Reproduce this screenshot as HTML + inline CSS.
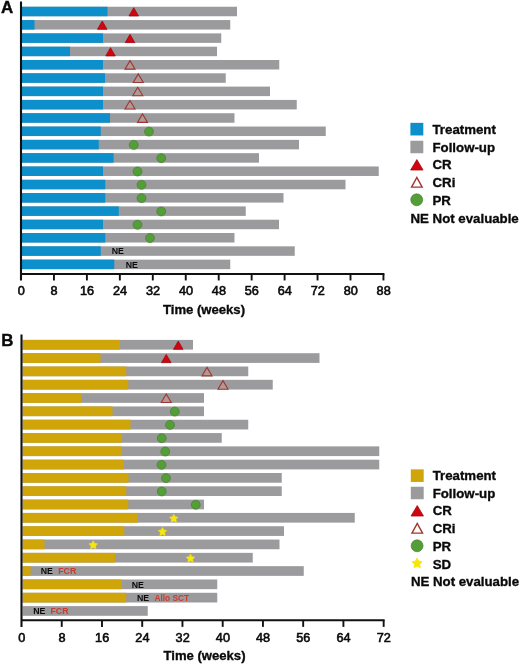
<!DOCTYPE html>
<html lang="en">
<head>
<meta charset="utf-8">
<title>Swimmer plots</title>
<style>
html,body{margin:0;padding:0;background:#fff;}
body{width:520px;height:665px;overflow:hidden;}
svg{display:block;}
text{font-family:"Liberation Sans", Arial, Helvetica, sans-serif;fill:#0a0a0a;}
.tick{font-size:12.7px;stroke:#0a0a0a;stroke-width:0.6px;}
.title{font-size:13.1px;font-weight:bold;stroke:#0a0a0a;stroke-width:0.35px;}
.leg{font-size:13.25px;font-weight:bold;stroke:#0a0a0a;stroke-width:0.35px;}
.panel{font-size:16.9px;font-weight:bold;stroke:#0a0a0a;stroke-width:0.4px;}
.ne{font-size:8.75px;font-weight:bold;}
.red{fill:#CC3B2B;}
</style>
</head>
<body>
<svg width="520" height="665" viewBox="0 0 520 665">
<rect x="0" y="0" width="520" height="665" fill="#fff"/>
<rect x="21.90" y="6.75" width="215.10" height="9.50" fill="#9B9A9D"/>
<rect x="21.90" y="6.75" width="85.60" height="9.50" fill="#0C8FCB"/>
<polygon points="129.00,15.95 138.50,15.95 133.75,7.75" fill="#D2040F" stroke="#A4060F" stroke-width="0.8"/>
<rect x="21.90" y="20.06" width="208.35" height="9.50" fill="#9B9A9D"/>
<rect x="21.90" y="20.06" width="12.60" height="9.50" fill="#0C8FCB"/>
<polygon points="97.50,29.26 107.00,29.26 102.25,21.06" fill="#D2040F" stroke="#A4060F" stroke-width="0.8"/>
<rect x="21.90" y="33.37" width="199.35" height="9.50" fill="#9B9A9D"/>
<rect x="21.90" y="33.37" width="81.10" height="9.50" fill="#0C8FCB"/>
<polygon points="125.25,42.57 134.75,42.57 130.00,34.37" fill="#D2040F" stroke="#A4060F" stroke-width="0.8"/>
<rect x="21.90" y="46.68" width="195.10" height="9.50" fill="#9B9A9D"/>
<rect x="21.90" y="46.68" width="48.10" height="9.50" fill="#0C8FCB"/>
<polygon points="105.75,55.88 115.25,55.88 110.50,47.68" fill="#D2040F" stroke="#A4060F" stroke-width="0.8"/>
<rect x="21.90" y="59.99" width="257.35" height="9.50" fill="#9B9A9D"/>
<rect x="21.90" y="59.99" width="81.10" height="9.50" fill="#0C8FCB"/>
<polygon points="125.00,69.14 135.00,69.14 130.00,60.64" fill="#D59C88" fill-opacity="0.4" stroke="#9F3536" stroke-width="1.1" stroke-linejoin="miter"/>
<rect x="21.90" y="73.30" width="203.85" height="9.50" fill="#9B9A9D"/>
<rect x="21.90" y="73.30" width="83.10" height="9.50" fill="#0C8FCB"/>
<polygon points="133.25,82.45 143.25,82.45 138.25,73.95" fill="#D59C88" fill-opacity="0.4" stroke="#9F3536" stroke-width="1.1" stroke-linejoin="miter"/>
<rect x="21.90" y="86.61" width="248.10" height="9.50" fill="#9B9A9D"/>
<rect x="21.90" y="86.61" width="81.10" height="9.50" fill="#0C8FCB"/>
<polygon points="132.75,95.76 142.75,95.76 137.75,87.26" fill="#D59C88" fill-opacity="0.4" stroke="#9F3536" stroke-width="1.1" stroke-linejoin="miter"/>
<rect x="21.90" y="99.92" width="274.85" height="9.50" fill="#9B9A9D"/>
<rect x="21.90" y="99.92" width="81.10" height="9.50" fill="#0C8FCB"/>
<polygon points="125.00,109.07 135.00,109.07 130.00,100.57" fill="#D59C88" fill-opacity="0.4" stroke="#9F3536" stroke-width="1.1" stroke-linejoin="miter"/>
<rect x="21.90" y="113.23" width="212.60" height="9.50" fill="#9B9A9D"/>
<rect x="21.90" y="113.23" width="88.10" height="9.50" fill="#0C8FCB"/>
<polygon points="137.50,122.38 147.50,122.38 142.50,113.88" fill="#D59C88" fill-opacity="0.4" stroke="#9F3536" stroke-width="1.1" stroke-linejoin="miter"/>
<rect x="21.90" y="126.54" width="303.85" height="9.50" fill="#9B9A9D"/>
<rect x="21.90" y="126.54" width="78.85" height="9.50" fill="#0C8FCB"/>
<circle cx="149.00" cy="131.59" r="4.45" fill="#539E36" stroke="#467F30" stroke-width="0.7"/>
<rect x="21.90" y="139.85" width="277.10" height="9.50" fill="#9B9A9D"/>
<rect x="21.90" y="139.85" width="76.85" height="9.50" fill="#0C8FCB"/>
<circle cx="133.75" cy="144.90" r="4.45" fill="#539E36" stroke="#467F30" stroke-width="0.7"/>
<rect x="21.90" y="153.16" width="237.10" height="9.50" fill="#9B9A9D"/>
<rect x="21.90" y="153.16" width="91.70" height="9.50" fill="#0C8FCB"/>
<circle cx="161.25" cy="158.21" r="4.45" fill="#539E36" stroke="#467F30" stroke-width="0.7"/>
<rect x="21.90" y="166.47" width="356.85" height="9.50" fill="#9B9A9D"/>
<rect x="21.90" y="166.47" width="81.10" height="9.50" fill="#0C8FCB"/>
<circle cx="137.50" cy="171.52" r="4.45" fill="#539E36" stroke="#467F30" stroke-width="0.7"/>
<rect x="21.90" y="179.78" width="323.60" height="9.50" fill="#9B9A9D"/>
<rect x="21.90" y="179.78" width="83.35" height="9.50" fill="#0C8FCB"/>
<circle cx="141.50" cy="184.83" r="4.45" fill="#539E36" stroke="#467F30" stroke-width="0.7"/>
<rect x="21.90" y="193.09" width="261.60" height="9.50" fill="#9B9A9D"/>
<rect x="21.90" y="193.09" width="83.35" height="9.50" fill="#0C8FCB"/>
<circle cx="141.50" cy="198.14" r="4.45" fill="#539E36" stroke="#467F30" stroke-width="0.7"/>
<rect x="21.90" y="206.40" width="223.85" height="9.50" fill="#9B9A9D"/>
<rect x="21.90" y="206.40" width="96.85" height="9.50" fill="#0C8FCB"/>
<circle cx="161.25" cy="211.45" r="4.45" fill="#539E36" stroke="#467F30" stroke-width="0.7"/>
<rect x="21.90" y="219.71" width="257.10" height="9.50" fill="#9B9A9D"/>
<rect x="21.90" y="219.71" width="81.10" height="9.50" fill="#0C8FCB"/>
<circle cx="137.50" cy="224.76" r="4.45" fill="#539E36" stroke="#467F30" stroke-width="0.7"/>
<rect x="21.90" y="233.02" width="212.60" height="9.50" fill="#9B9A9D"/>
<rect x="21.90" y="233.02" width="83.35" height="9.50" fill="#0C8FCB"/>
<circle cx="150.00" cy="238.07" r="4.45" fill="#539E36" stroke="#467F30" stroke-width="0.7"/>
<rect x="21.90" y="246.33" width="272.85" height="9.50" fill="#9B9A9D"/>
<rect x="21.90" y="246.33" width="78.85" height="9.50" fill="#0C8FCB"/>
<text x="111.75" y="254.33" class="ne">NE</text>
<rect x="21.90" y="259.64" width="208.35" height="9.50" fill="#9B9A9D"/>
<rect x="21.90" y="259.64" width="92.35" height="9.50" fill="#0C8FCB"/>
<text x="125.75" y="267.64" class="ne">NE</text>
<line x1="21.00" y1="1.40" x2="21.00" y2="280.45" stroke="#111" stroke-width="2.1"/>
<line x1="21.00" y1="273.95" x2="384.40" y2="273.95" stroke="#111" stroke-width="1.9"/>
<text x="21.20" y="295.10" class="tick" text-anchor="middle">0</text>
<line x1="53.95" y1="273.95" x2="53.95" y2="280.45" stroke="#111" stroke-width="1.9"/>
<text x="54.15" y="295.10" class="tick" text-anchor="middle">8</text>
<line x1="86.90" y1="273.95" x2="86.90" y2="280.45" stroke="#111" stroke-width="1.9"/>
<text x="87.10" y="295.10" class="tick" text-anchor="middle">16</text>
<line x1="119.85" y1="273.95" x2="119.85" y2="280.45" stroke="#111" stroke-width="1.9"/>
<text x="120.05" y="295.10" class="tick" text-anchor="middle">24</text>
<line x1="152.80" y1="273.95" x2="152.80" y2="280.45" stroke="#111" stroke-width="1.9"/>
<text x="153.00" y="295.10" class="tick" text-anchor="middle">32</text>
<line x1="185.75" y1="273.95" x2="185.75" y2="280.45" stroke="#111" stroke-width="1.9"/>
<text x="185.95" y="295.10" class="tick" text-anchor="middle">40</text>
<line x1="218.70" y1="273.95" x2="218.70" y2="280.45" stroke="#111" stroke-width="1.9"/>
<text x="218.90" y="295.10" class="tick" text-anchor="middle">48</text>
<line x1="251.65" y1="273.95" x2="251.65" y2="280.45" stroke="#111" stroke-width="1.9"/>
<text x="251.85" y="295.10" class="tick" text-anchor="middle">56</text>
<line x1="284.60" y1="273.95" x2="284.60" y2="280.45" stroke="#111" stroke-width="1.9"/>
<text x="284.80" y="295.10" class="tick" text-anchor="middle">64</text>
<line x1="317.55" y1="273.95" x2="317.55" y2="280.45" stroke="#111" stroke-width="1.9"/>
<text x="317.75" y="295.10" class="tick" text-anchor="middle">72</text>
<line x1="350.50" y1="273.95" x2="350.50" y2="280.45" stroke="#111" stroke-width="1.9"/>
<text x="350.70" y="295.10" class="tick" text-anchor="middle">80</text>
<line x1="383.45" y1="273.95" x2="383.45" y2="280.45" stroke="#111" stroke-width="1.9"/>
<text x="383.65" y="295.10" class="tick" text-anchor="middle">88</text>
<text x="204.00" y="314.20" class="title" text-anchor="middle">Time (weeks)</text>
<text x="1.0" y="13.4" class="panel">A</text>
<rect x="410.40" y="122.85" width="12.9" height="12.6" fill="#0C8FCB"/>
<text x="432.50" y="133.80" class="leg">Treatment</text>
<rect x="410.40" y="140.75" width="12.9" height="12.5" fill="#9B9A9D"/>
<text x="432.50" y="151.55" class="leg">Follow-up</text>
<polygon points="410.65,170.00 423.05,170.00 416.85,159.60" fill="#D2040F" stroke="#A4060F" stroke-width="0.8"/>
<text x="432.50" y="169.30" class="leg">CR</text>
<polygon points="411.55,187.10 422.15,187.10 416.85,177.40" fill="#fffdf5" stroke="#9F3536" stroke-width="1.4"/>
<text x="432.50" y="187.05" class="leg">CRi</text>
<circle cx="416.70" cy="199.80" r="5.95" fill="#539E36" stroke="#467F30" stroke-width="0.7"/>
<text x="432.50" y="204.80" class="leg">PR</text>
<text x="410.50" y="222.55" class="leg">NE Not evaluable</text>
<rect x="22.60" y="339.90" width="170.40" height="9.70" fill="#9B9A9D"/>
<rect x="22.60" y="339.90" width="97.40" height="9.70" fill="#CFA509"/>
<polygon points="173.50,349.30 183.00,349.30 178.25,341.10" fill="#D2040F" stroke="#A4060F" stroke-width="0.8"/>
<rect x="22.60" y="353.21" width="296.90" height="9.70" fill="#9B9A9D"/>
<rect x="22.60" y="353.21" width="77.90" height="9.70" fill="#CFA509"/>
<polygon points="161.50,362.61 171.00,362.61 166.25,354.41" fill="#D2040F" stroke="#A4060F" stroke-width="0.8"/>
<rect x="22.60" y="366.52" width="225.65" height="9.70" fill="#9B9A9D"/>
<rect x="22.60" y="366.52" width="103.65" height="9.70" fill="#CFA509"/>
<polygon points="202.00,375.87 212.00,375.87 207.00,367.37" fill="#D59C88" fill-opacity="0.4" stroke="#9F3536" stroke-width="1.1" stroke-linejoin="miter"/>
<rect x="22.60" y="379.83" width="250.15" height="9.70" fill="#9B9A9D"/>
<rect x="22.60" y="379.83" width="105.65" height="9.70" fill="#CFA509"/>
<polygon points="218.00,389.18 228.00,389.18 223.00,380.68" fill="#D59C88" fill-opacity="0.4" stroke="#9F3536" stroke-width="1.1" stroke-linejoin="miter"/>
<rect x="22.60" y="393.14" width="181.40" height="9.70" fill="#9B9A9D"/>
<rect x="22.60" y="393.14" width="58.65" height="9.70" fill="#CFA509"/>
<polygon points="161.25,402.49 171.25,402.49 166.25,393.99" fill="#D59C88" fill-opacity="0.4" stroke="#9F3536" stroke-width="1.1" stroke-linejoin="miter"/>
<rect x="22.60" y="406.45" width="181.40" height="9.70" fill="#9B9A9D"/>
<rect x="22.60" y="406.45" width="89.90" height="9.70" fill="#CFA509"/>
<circle cx="174.75" cy="411.60" r="4.45" fill="#539E36" stroke="#467F30" stroke-width="0.7"/>
<rect x="22.60" y="419.76" width="225.65" height="9.70" fill="#9B9A9D"/>
<rect x="22.60" y="419.76" width="107.90" height="9.70" fill="#CFA509"/>
<circle cx="170.00" cy="424.91" r="4.45" fill="#539E36" stroke="#467F30" stroke-width="0.7"/>
<rect x="22.60" y="433.07" width="199.15" height="9.70" fill="#9B9A9D"/>
<rect x="22.60" y="433.07" width="99.15" height="9.70" fill="#CFA509"/>
<circle cx="161.75" cy="438.22" r="4.45" fill="#539E36" stroke="#467F30" stroke-width="0.7"/>
<rect x="22.60" y="446.38" width="356.65" height="9.70" fill="#9B9A9D"/>
<rect x="22.60" y="446.38" width="99.15" height="9.70" fill="#CFA509"/>
<circle cx="165.25" cy="451.53" r="4.45" fill="#539E36" stroke="#467F30" stroke-width="0.7"/>
<rect x="22.60" y="459.69" width="356.65" height="9.70" fill="#9B9A9D"/>
<rect x="22.60" y="459.69" width="101.15" height="9.70" fill="#CFA509"/>
<circle cx="161.50" cy="464.84" r="4.45" fill="#539E36" stroke="#467F30" stroke-width="0.7"/>
<rect x="22.60" y="473.00" width="259.15" height="9.70" fill="#9B9A9D"/>
<rect x="22.60" y="473.00" width="105.90" height="9.70" fill="#CFA509"/>
<circle cx="166.00" cy="478.15" r="4.45" fill="#539E36" stroke="#467F30" stroke-width="0.7"/>
<rect x="22.60" y="486.31" width="259.15" height="9.70" fill="#9B9A9D"/>
<rect x="22.60" y="486.31" width="103.65" height="9.70" fill="#CFA509"/>
<circle cx="161.75" cy="491.46" r="4.45" fill="#539E36" stroke="#467F30" stroke-width="0.7"/>
<rect x="22.60" y="499.62" width="181.40" height="9.70" fill="#9B9A9D"/>
<rect x="22.60" y="499.62" width="105.65" height="9.70" fill="#CFA509"/>
<circle cx="195.75" cy="504.77" r="4.45" fill="#539E36" stroke="#467F30" stroke-width="0.7"/>
<rect x="22.60" y="512.93" width="332.15" height="9.70" fill="#9B9A9D"/>
<rect x="22.60" y="512.93" width="115.40" height="9.70" fill="#CFA509"/>
<polygon points="173.75,514.18 175.10,516.72 177.93,517.22 175.94,519.29 176.34,522.14 173.75,520.88 171.16,522.14 171.56,519.29 169.57,517.22 172.40,516.72" fill="#F8E60A" stroke="#F8E60A" stroke-width="0.6" stroke-linejoin="round"/>
<rect x="22.60" y="526.24" width="261.40" height="9.70" fill="#9B9A9D"/>
<rect x="22.60" y="526.24" width="101.65" height="9.70" fill="#CFA509"/>
<polygon points="162.50,527.49 163.85,530.03 166.68,530.53 164.69,532.60 165.09,535.45 162.50,534.19 159.91,535.45 160.31,532.60 158.32,530.53 161.15,530.03" fill="#F8E60A" stroke="#F8E60A" stroke-width="0.6" stroke-linejoin="round"/>
<rect x="22.60" y="539.55" width="256.90" height="9.70" fill="#9B9A9D"/>
<rect x="22.60" y="539.55" width="21.90" height="9.70" fill="#CFA509"/>
<polygon points="93.25,540.80 94.60,543.34 97.43,543.84 95.44,545.91 95.84,548.76 93.25,547.50 90.66,548.76 91.06,545.91 89.07,543.84 91.90,543.34" fill="#F8E60A" stroke="#F8E60A" stroke-width="0.6" stroke-linejoin="round"/>
<rect x="22.60" y="552.86" width="230.15" height="9.70" fill="#9B9A9D"/>
<rect x="22.60" y="552.86" width="92.40" height="9.70" fill="#CFA509"/>
<polygon points="190.50,554.11 191.85,556.65 194.68,557.15 192.69,559.22 193.09,562.07 190.50,560.81 187.91,562.07 188.31,559.22 186.32,557.15 189.15,556.65" fill="#F8E60A" stroke="#F8E60A" stroke-width="0.6" stroke-linejoin="round"/>
<rect x="22.60" y="566.17" width="281.15" height="9.70" fill="#9B9A9D"/>
<rect x="22.60" y="566.17" width="7.90" height="9.70" fill="#CFA509"/>
<text x="40.75" y="574.37" class="ne">NE</text>
<text x="58.25" y="574.37" class="ne red">FCR</text>
<rect x="22.60" y="579.48" width="194.65" height="9.70" fill="#9B9A9D"/>
<rect x="22.60" y="579.48" width="99.15" height="9.70" fill="#CFA509"/>
<text x="131.75" y="587.68" class="ne">NE</text>
<rect x="22.60" y="592.79" width="194.65" height="9.70" fill="#9B9A9D"/>
<rect x="22.60" y="592.79" width="103.65" height="9.70" fill="#CFA509"/>
<text x="137.00" y="600.99" class="ne">NE</text>
<text x="154.50" y="600.99" class="ne red" textLength="34.6" lengthAdjust="spacingAndGlyphs">Allo SCT</text>
<rect x="22.60" y="606.10" width="125.15" height="9.70" fill="#9B9A9D"/>
<text x="33.25" y="614.30" class="ne">NE</text>
<text x="50.50" y="614.30" class="ne red">FCR</text>
<line x1="21.50" y1="334.50" x2="21.50" y2="626.90" stroke="#111" stroke-width="2.1"/>
<line x1="21.50" y1="620.20" x2="384.61" y2="620.20" stroke="#111" stroke-width="1.9"/>
<text x="21.70" y="641.90" class="tick" text-anchor="middle">0</text>
<line x1="61.74" y1="620.20" x2="61.74" y2="626.90" stroke="#111" stroke-width="1.9"/>
<text x="61.94" y="641.90" class="tick" text-anchor="middle">8</text>
<line x1="101.98" y1="620.20" x2="101.98" y2="626.90" stroke="#111" stroke-width="1.9"/>
<text x="102.18" y="641.90" class="tick" text-anchor="middle">16</text>
<line x1="142.22" y1="620.20" x2="142.22" y2="626.90" stroke="#111" stroke-width="1.9"/>
<text x="142.42" y="641.90" class="tick" text-anchor="middle">24</text>
<line x1="182.46" y1="620.20" x2="182.46" y2="626.90" stroke="#111" stroke-width="1.9"/>
<text x="182.66" y="641.90" class="tick" text-anchor="middle">32</text>
<line x1="222.70" y1="620.20" x2="222.70" y2="626.90" stroke="#111" stroke-width="1.9"/>
<text x="222.90" y="641.90" class="tick" text-anchor="middle">40</text>
<line x1="262.94" y1="620.20" x2="262.94" y2="626.90" stroke="#111" stroke-width="1.9"/>
<text x="263.14" y="641.90" class="tick" text-anchor="middle">48</text>
<line x1="303.18" y1="620.20" x2="303.18" y2="626.90" stroke="#111" stroke-width="1.9"/>
<text x="303.38" y="641.90" class="tick" text-anchor="middle">56</text>
<line x1="343.42" y1="620.20" x2="343.42" y2="626.90" stroke="#111" stroke-width="1.9"/>
<text x="343.62" y="641.90" class="tick" text-anchor="middle">64</text>
<line x1="383.66" y1="620.20" x2="383.66" y2="626.90" stroke="#111" stroke-width="1.9"/>
<text x="383.86" y="641.90" class="tick" text-anchor="middle">72</text>
<text x="204.50" y="660.10" class="title" text-anchor="middle">Time (weeks)</text>
<text x="1.3" y="345.7" class="panel">B</text>
<rect x="410.80" y="469.35" width="12.9" height="12.6" fill="#CFA509"/>
<text x="432.70" y="479.80" class="leg">Treatment</text>
<rect x="410.80" y="486.75" width="12.9" height="12.5" fill="#9B9A9D"/>
<text x="432.70" y="497.55" class="leg">Follow-up</text>
<polygon points="411.05,516.00 423.45,516.00 417.25,505.60" fill="#D2040F" stroke="#A4060F" stroke-width="0.8"/>
<text x="432.70" y="515.30" class="leg">CR</text>
<polygon points="411.95,533.10 422.55,533.10 417.25,523.40" fill="#fffdf5" stroke="#9F3536" stroke-width="1.4"/>
<text x="432.70" y="533.05" class="leg">CRi</text>
<circle cx="417.10" cy="545.80" r="5.95" fill="#539E36" stroke="#467F30" stroke-width="0.7"/>
<text x="432.70" y="550.80" class="leg">PR</text>
<polygon points="417.10,558.05 418.75,561.08 422.14,561.71 419.76,564.22 420.22,567.64 417.10,566.15 413.98,567.64 414.44,564.22 412.06,561.71 415.45,561.08" fill="#F8E60A" stroke="#F8E60A" stroke-width="0.8" stroke-linejoin="round"/>
<text x="432.70" y="568.55" class="leg">SD</text>
<text x="410.90" y="586.30" class="leg">NE Not evaluable</text>
</svg>
</body>
</html>
